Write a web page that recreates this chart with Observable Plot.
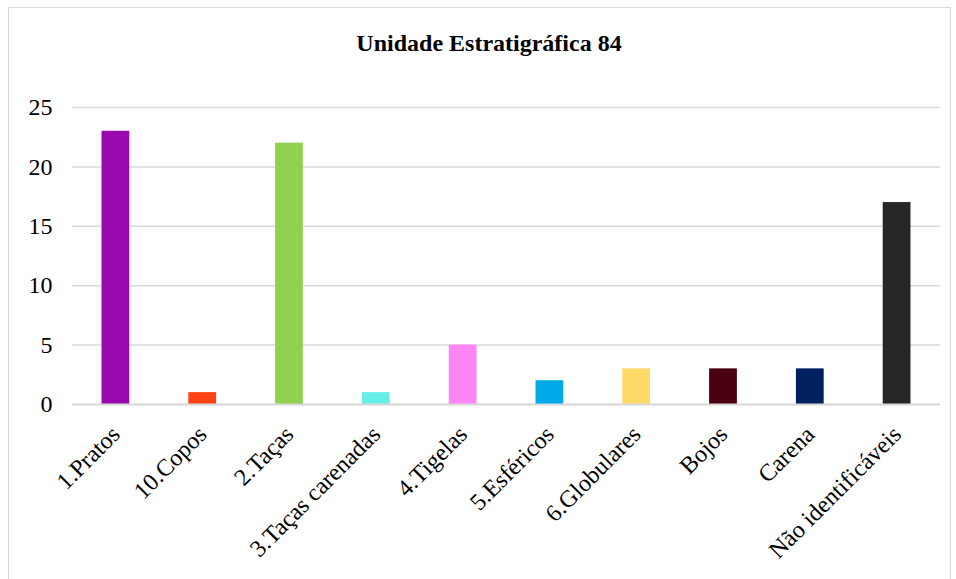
<!DOCTYPE html>
<html>
<head>
<meta charset="utf-8">
<script src="https://cdn.jsdelivr.net/npm/d3@7"></script>
<script src="https://cdn.jsdelivr.net/npm/@observablehq/plot@0.6"></script>
<style>
  html, body { margin: 0; padding: 0; background: #fff; }
  #wrap { position: relative; width: 956px; height: 579px; overflow: hidden; }
  #frame { position: absolute; left: 8px; top: 7px; width: 943px; height: 600px; border: 1px solid #d9d9d9; box-sizing: border-box; }
  #title { position: absolute; left: 0; top: 30px; width: 978px; text-align: center;
           font-family: "Liberation Serif", "Times New Roman", serif; font-weight: bold; font-size: 24px; color: #000; }
  #chart { position: absolute; left: 0; top: 0; }
</style>
</head>
<body>
<div id="wrap">
  <div id="frame"></div>
  <div id="chart"></div>
  <div id="title">Unidade Estratigráfica 84</div>
</div>
<script>
const categories = ["1.Pratos", "10.Copos", "2.Taças", "3.Taças carenadas", "4.Tigelas", "5.Esféricos", "6.Globulares", "Bojos", "Carena", "Não identificáveis"];
const values = [23, 1, 22, 1, 5, 2, 3, 3, 3, 17];
const colors = ["#990aae", "#fe4211", "#92d050", "#66efe8", "#fe85f5", "#00aae8", "#ffd966", "#4a0010", "#002060", "#262626"];
const yTicks = [0, 5, 10, 15, 20, 25];

const data = categories.map((c, i) => ({category: c, value: values[i], color: colors[i]}));

const font = "'Liberation Serif', 'Times New Roman', serif";
const chart = Plot.plot({
  width: 956,
  height: 579,
  marginLeft: 72,
  marginRight: 16,
  marginTop: 107,
  marginBottom: 175,
  style: {fontFamily: font, color: "#000", background: "transparent", overflow: "visible"},
  x: {domain: categories, paddingInner: 0.68, paddingOuter: 0.34, round: false, label: null},
  y: {domain: [0, 25], label: null},
  marks: [
    Plot.ruleY(yTicks, {stroke: "#d9d9d9", strokeWidth: 1.5}),
    Plot.barY(data, {x: "category", y: "value", fill: "color"}),
    Plot.ruleY([0], {stroke: "#d9d9d9", strokeWidth: 2}),
    Plot.axisY(yTicks, {tickSize: 0, tickPadding: 20, fontSize: 24, fill: "#000", label: null}),
    Plot.axisX({tickSize: 0, tickPadding: 26, tickRotate: -45, fontSize: 24, fill: "#000", label: null})
  ]
});
document.getElementById("chart").appendChild(chart);
</script>
</body>
</html>
